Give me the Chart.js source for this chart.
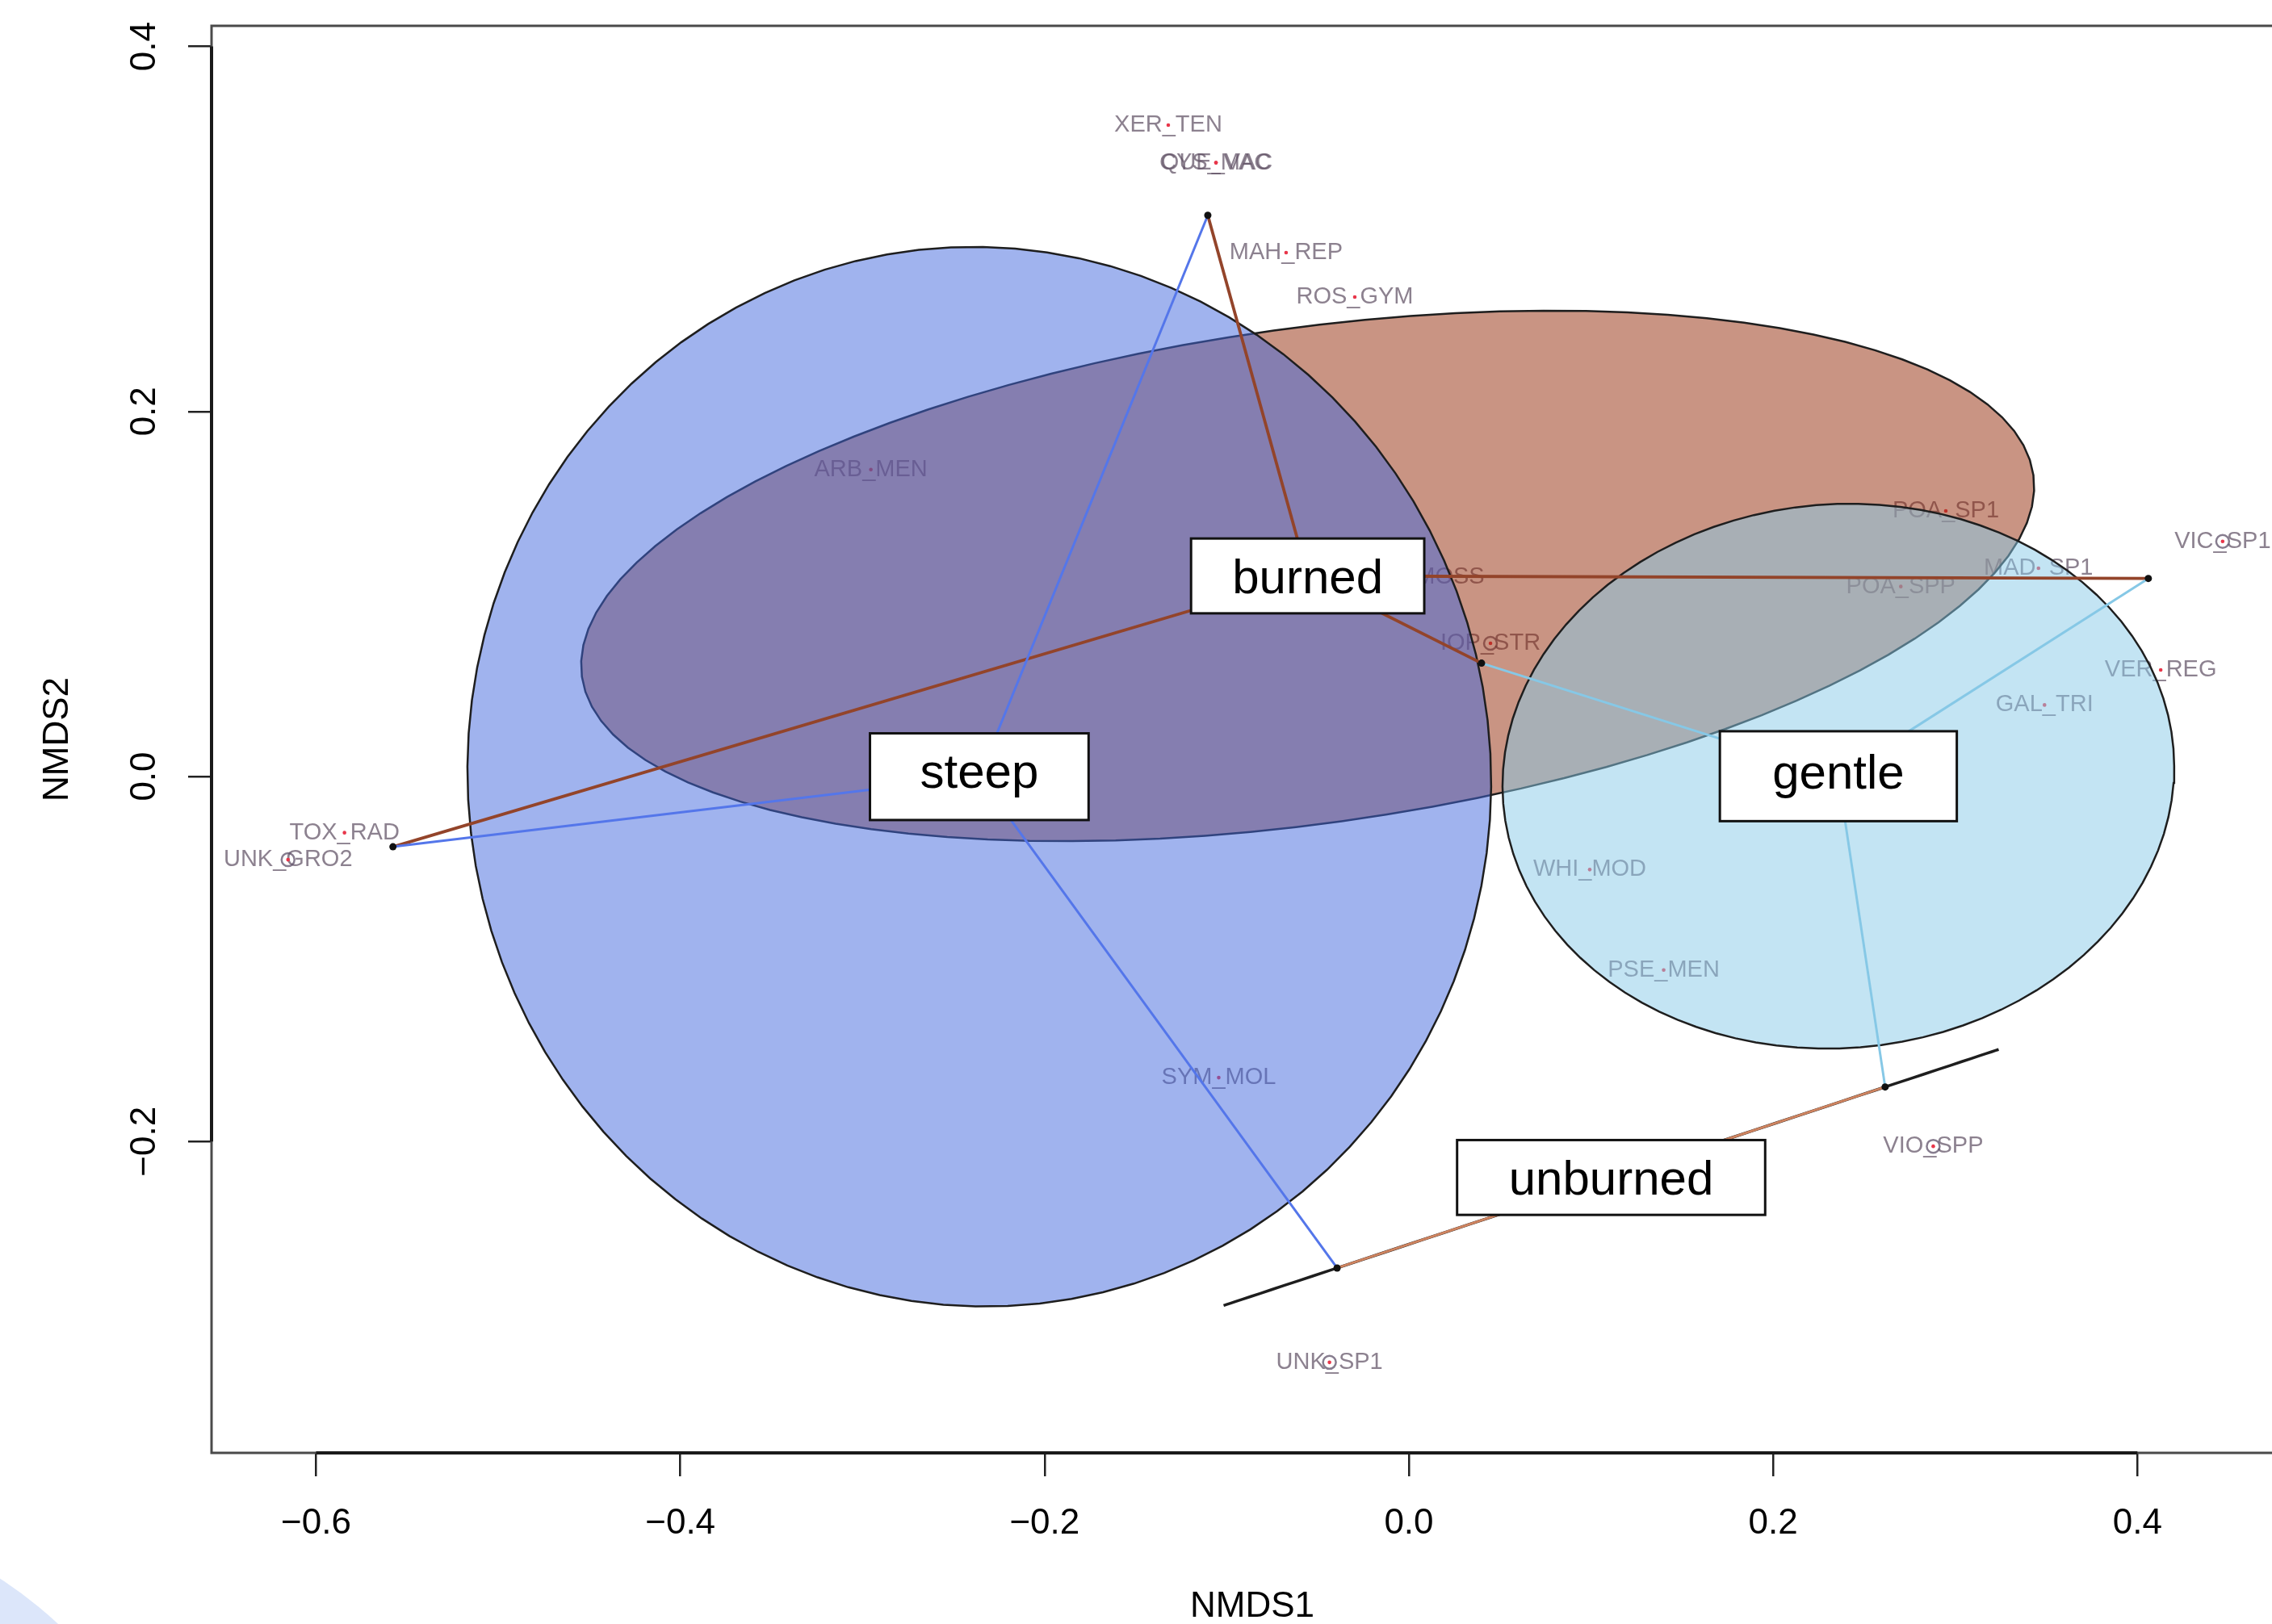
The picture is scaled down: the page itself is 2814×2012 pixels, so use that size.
<!DOCTYPE html>
<html><head><meta charset="utf-8">
<script src="https://cdn.jsdelivr.net/npm/chart.js@4.4.1/dist/chart.umd.min.js"></script>
<style>html,body{margin:0;padding:0;background:#fff;overflow:hidden}</style>
</head><body>
<canvas id="c" width="2814" height="2012"></canvas>
<script>
// ---------------- data ----------------
const SITE_IDS   = ['S1', 'S2', 'S3', 'S4', 'S5', 'S6'];
const SITE_X     = [-0.1104, -0.5578, 0.0399, 0.4060, -0.0394, 0.2615];
const SITE_Y     = [ 0.3075, -0.0385, 0.0621, 0.1085, -0.2693, -0.1701];
const SITE_BURN  = ['burned', 'burned', 'burned', 'burned', 'unburned', 'unburned'];
const SITE_SLOPE = ['steep', 'steep', 'gentle', 'gentle', 'steep', 'gentle'];

const BURN_GROUPS  = ['burned', 'unburned'];
const SLOPE_GROUPS = ['steep', 'gentle'];

const SPECIES   = ['XER_TEN','QUE_VAC','CYS_MAC','MAH_REP','ROS_GYM','ARB_MEN','MOSS','IOP_STR','POA_SP1','VIC_SP1','MAD_SP1','POA_SPP','VER_REG','GAL_TRI','TOX_RAD','UNK_GRO2','WHI_MOD','PSE_MEN','SYM_MOL','VIO_SPP','UNK_SP1'];
const SPECIES_X = [-0.1321,-0.1059,-0.1059,-0.0674,-0.0297,-0.2954,0.0226,0.0448,0.2948,0.4468,0.3457,0.2701,0.4128,0.3490,-0.5844,-0.6154,0.0993,0.1399,-0.1044,0.2879,-0.0436];
const SPECIES_Y = [ 0.3569, 0.3363, 0.3363, 0.2870, 0.2627, 0.1682,0.1092,0.0730,0.1455,0.1288,0.1141,0.1041,0.0584,0.0392,-0.0308,-0.0456,-0.0510,-0.1060,-0.1650,-0.2026,-0.3210];
const SPECIES_CIRCLED = ['UNK_GRO2','IOP_STR','VIC_SP1','VIO_SPP','UNK_SP1'];

const X_TICKS = [-0.6, -0.4, -0.2, 0.0, 0.2, 0.4];
const X_TICK_LABELS = ['\u22120.6', '\u22120.4', '\u22120.2', '0.0', '0.2', '0.4'];
const Y_TICKS = [-0.2, 0.0, 0.2, 0.4];
const Y_TICK_LABELS = ['\u22120.2', '0.0', '0.2', '0.4'];
const X_RANGE = [-0.6574, 0.4739];   // visible part of the plot
const X_BOX   = [-0.6574, 0.4854];   // full plot box (right edge is cut off by the image)
const Y_RANGE = [-0.3706, 0.4113];
const X_TITLE = 'NMDS1';
const Y_TITLE = 'NMDS2';

// ---------------- styles ----------------
const FONT = 'Liberation Sans, Arial, Helvetica, sans-serif';
const GROUP_STYLE = {
  burned:   { fill: 'rgba(147,42,8,0.5)',    spider: '#93442A', w: 3.8, pad: 51 },
  unburned: { fill: 'rgba(147,42,8,0.5)',    spider: '#CF8460', w: 3,   pad: 64 },
  steep:    { fill: 'rgba(66,104,222,0.5)',  spider: '#5476EA', w: 3,   pad: 62 },
  gentle:   { fill: 'rgba(135,201,231,0.5)', spider: '#86C8E6', w: 3,   pad: 65 }
};

// ---------------- derived (centroids and sd ellipses, as ordispider/ordiellipse) ----------------
function members(groupArr, g) { const idx = []; groupArr.forEach((v, i) => { if (v === g) idx.push(i); }); return idx; }
function centroid(idx) {
  let sx = 0, sy = 0; idx.forEach(i => { sx += SITE_X[i]; sy += SITE_Y[i]; });
  return { x: sx / idx.length, y: sy / idx.length };
}
function sdEllipse(idx) {
  const c = centroid(idx), n = idx.length;
  let sxx = 0, syy = 0, sxy = 0;
  idx.forEach(i => { const dx = SITE_X[i] - c.x, dy = SITE_Y[i] - c.y; sxx += dx*dx; syy += dy*dy; sxy += dx*dy; });
  sxx /= (n - 1); syy /= (n - 1); sxy /= (n - 1);
  const tr = sxx + syy, det = sxx*syy - sxy*sxy;
  const disc = Math.sqrt(Math.max(0, tr*tr/4 - det));
  const a = Math.sqrt(tr/2 + disc), b = Math.sqrt(Math.max(0, tr/2 - disc));
  const th = 0.5 * Math.atan2(2*sxy, sxx - syy);
  const pts = [];
  for (let k = 0; k <= 100; k++) {
    const t = 2*Math.PI*k/100, u = a*Math.cos(t), v = b*Math.sin(t);
    pts.push({ x: c.x + u*Math.cos(th) - v*Math.sin(th), y: c.y + u*Math.sin(th) + v*Math.cos(th) });
  }
  return pts;
}

const groups = [];
BURN_GROUPS.forEach(g => groups.push({ name: g, idx: members(SITE_BURN, g) }));
SLOPE_GROUPS.forEach(g => groups.push({ name: g, idx: members(SITE_SLOPE, g) }));

const datasets = [];
// species markers (under ellipses)
datasets.push({ label: 'species', data: SPECIES.map((s, i) => ({ x: SPECIES_X[i], y: SPECIES_Y[i] })),
  showLine: false, pointRadius: 2.3, pointBackgroundColor: '#E8364A', pointBorderWidth: 0, order: 1000 });
datasets.push({ label: 'circled', data: SPECIES_CIRCLED.map(s => { const i = SPECIES.indexOf(s); return { x: SPECIES_X[i], y: SPECIES_Y[i] }; }),
  showLine: false, pointRadius: 8, pointBackgroundColor: 'rgba(0,0,0,0)', pointBorderColor: 'rgba(95,82,105,0.75)', pointBorderWidth: 2.5, order: 999 });
// ellipses
groups.forEach((g, k) => {
  datasets.push({ label: g.name + ' ellipse', data: sdEllipse(g.idx), showLine: true, fill: 'shape',
    backgroundColor: GROUP_STYLE[g.name].fill, borderColor: '#1e1e1e', borderWidth: g.idx.length > 2 ? 2.5 : 3.5,
    pointRadius: 0, tension: 0, order: 900 - k });
});
// spiders
groups.forEach((g, k) => {
  const c = centroid(g.idx);
  g.idx.forEach(i => {
    datasets.push({ label: g.name + ' spider ' + SITE_IDS[i], data: [c, { x: SITE_X[i], y: SITE_Y[i] }], showLine: true, fill: false,
      borderColor: GROUP_STYLE[g.name].spider, borderWidth: GROUP_STYLE[g.name].w, pointRadius: 0, order: 800 - k });
  });
});
// sites
datasets.push({ label: 'sites', data: SITE_X.map((x, i) => ({ x, y: SITE_Y[i] })), showLine: false,
  pointRadius: 4.5, pointBackgroundColor: '#111', pointBorderWidth: 0, order: 0 });

// ---------------- plugins ----------------
const bgPlugin = { id: 'bg', beforeDraw(chart) {
  const ctx = chart.ctx; ctx.save();
  ctx.fillStyle = '#fff'; ctx.fillRect(0, 0, chart.width, chart.height);
  ctx.fillStyle = 'rgba(205,220,248,0.7)'; ctx.beginPath(); ctx.arc(-289, 2400, 530, 0, 2*Math.PI); ctx.fill();
  ctx.restore();
}};
const speciesText = { id: 'speciesText', beforeDatasetsDraw(chart) {
  const ctx = chart.ctx, xs = chart.scales.x, ys = chart.scales.y;
  ctx.save(); ctx.font = '29px ' + FONT; ctx.textAlign = 'center'; ctx.textBaseline = 'alphabetic';
  ctx.fillStyle = 'rgba(95,80,100,0.72)';
  SPECIES.forEach((s, i) => ctx.fillText(s, xs.getPixelForValue(SPECIES_X[i]), ys.getPixelForValue(SPECIES_Y[i]) + 8));
  ctx.restore();
}};
const groupLabels = { id: 'groupLabels', afterDatasetsDraw(chart) {
  const ctx = chart.ctx, xs = chart.scales.x, ys = chart.scales.y;
  ctx.save(); ctx.font = '60px ' + FONT;
  groups.forEach(g => {
    const c = centroid(g.idx);
    const px = xs.getPixelForValue(c.x), py = ys.getPixelForValue(c.y);
    const m = ctx.measureText(g.name);
    const asc = m.actualBoundingBoxAscent, desc = m.actualBoundingBoxDescent;
    const w = m.width + 2*GROUP_STYLE[g.name].pad, h = asc + desc*1.7 + 48;
    ctx.fillStyle = '#fff'; ctx.fillRect(px - w/2, py - h/2, w, h);
    ctx.strokeStyle = '#111'; ctx.lineWidth = 3; ctx.strokeRect(px - w/2, py - h/2, w, h);
    ctx.fillStyle = '#000'; ctx.textAlign = 'center'; ctx.textBaseline = 'alphabetic';
    ctx.fillText(g.name, px, py + (asc - desc)/2);
  });
  ctx.restore();
}};
const frame = { id: 'frame', afterDraw(chart) {
  const ctx = chart.ctx, a = chart.chartArea, xs = chart.scales.x, ys = chart.scales.y;
  ctx.save();
  const boxR = xs.getPixelForValue(X_BOX[1]);
  ctx.strokeStyle = '#4a4a4a'; ctx.lineWidth = 3;
  ctx.beginPath(); ctx.moveTo(boxR, a.top); ctx.lineTo(a.left, a.top); ctx.lineTo(a.left, a.bottom); ctx.lineTo(boxR, a.bottom); ctx.stroke();
  ctx.strokeStyle = '#1a1a1a'; ctx.lineWidth = 4;
  ctx.beginPath();
  ctx.moveTo(xs.getPixelForValue(X_TICKS[0]), a.bottom); ctx.lineTo(xs.getPixelForValue(X_TICKS[X_TICKS.length-1]), a.bottom);
  ctx.moveTo(a.left, ys.getPixelForValue(Y_TICKS[0])); ctx.lineTo(a.left, ys.getPixelForValue(Y_TICKS[Y_TICKS.length-1]));
  ctx.stroke();
  ctx.fillStyle = '#000'; ctx.font = '44px ' + FONT; ctx.textAlign = 'center'; ctx.textBaseline = 'middle';
  Y_TICKS.forEach((v, i) => {
    ctx.save(); ctx.translate(180, ys.getPixelForValue(v)); ctx.rotate(-Math.PI/2);
    ctx.fillText(Y_TICK_LABELS[i], 0, 0); ctx.restore();
  });
  // x title centred on the full plot box
  ctx.fillText(X_TITLE, xs.getPixelForValue((X_BOX[0] + X_BOX[1]) / 2), chart.height - 21);
  ctx.restore();
}};

const tickFont = { family: FONT, size: 44, lineHeight: 1 };
new Chart(document.getElementById('c'), {
  type: 'scatter',
  data: { datasets },
  plugins: [bgPlugin, speciesText, groupLabels, frame],
  options: {
    responsive: false, animation: false, devicePixelRatio: 1,
    layout: { autoPadding: false, padding: { top: 32, right: 0, left: 0, bottom: 0 } },
    plugins: { legend: { display: false }, tooltip: { enabled: false } },
    scales: {
      x: {
        type: 'linear', position: 'bottom', min: X_RANGE[0], max: X_RANGE[1],
        afterBuildTicks: s => { s.ticks = X_TICKS.map(v => ({ value: v })); },
        afterFit: s => { s.height = 212; },
        border: { display: false },
        grid: { display: true, drawOnChartArea: false, drawTicks: true, tickLength: 29, color: '#222', lineWidth: 2.5 },
        ticks: { autoSkip: false, maxRotation: 0, minRotation: 0, padding: 37, color: '#000', font: tickFont,
          callback: (v, i) => X_TICK_LABELS[i] },
        title: { display: false }
      },
      y: {
        type: 'linear', position: 'left', min: Y_RANGE[0], max: Y_RANGE[1],
        afterBuildTicks: s => { s.ticks = Y_TICKS.map(v => ({ value: v })); },
        afterFit: s => { s.width = 262; },
        border: { display: false },
        grid: { display: true, drawOnChartArea: false, drawTicks: true, tickLength: 29, color: '#222', lineWidth: 2.5 },
        ticks: { display: false },
        title: { display: true, text: Y_TITLE, color: '#000', font: tickFont, padding: { top: 50, bottom: 0 } }
      }
    }
  }
});
</script>
</body></html>
